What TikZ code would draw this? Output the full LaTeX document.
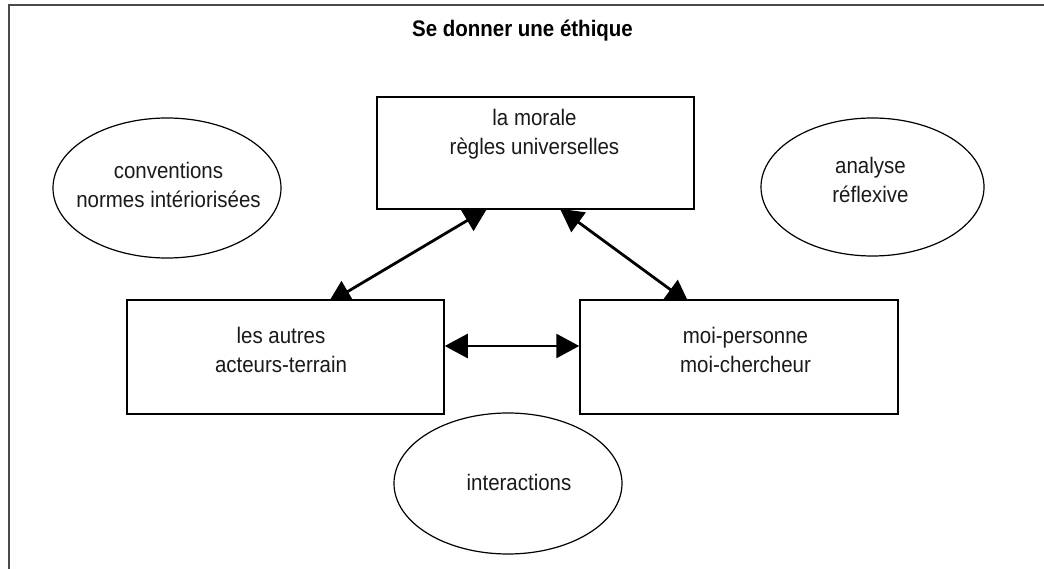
\documentclass[tikz,border=0pt]{standalone}
\usepackage{fontspec}
\setmainfont{Liberation Sans}[FakeStretch=0.91]
\usetikzlibrary{arrows.meta,shapes.geometric,backgrounds}
\definecolor{framegray}{HTML}{4A4A4A}
\definecolor{inkgray}{HTML}{1A1A1A}
\begin{document}
\begin{tikzpicture}[x=1pt,y=-1pt,
  txt/.style={font=\fontsize{22.5}{29}\selectfont, text=inkgray, align=center, inner sep=0pt, anchor=base},
  ttl/.style={font=\bfseries\fontsize{22.5}{29}\selectfont, text=black, inner sep=0pt, anchor=base},
  boxnode/.style={draw=black, line width=1.5pt, fill=white, rectangle, inner sep=0pt},
  ellnode/.style={draw=black, line width=1.2pt, ellipse, inner sep=0pt},
  biarrow/.style={line width=2.8pt, {Triangle[length=23pt,width=24pt]}-{Triangle[length=23pt,width=24pt]}},
  framestyle/.style={draw=framegray, line width=2pt}]
\useasboundingbox (0,0) rectangle (1044,569);

% frame
\coordinate (fbl) at (9,569);
\coordinate (ftl) at (9,5);
\coordinate (ftr) at (1044,5);
\draw[framestyle] (fbl) -- (ftl) -- (ftr);

% title
\node[ttl] (title) at (522.5,37) {Se donner une éthique};

% boxes
\node[boxnode, minimum width=317pt, minimum height=112pt] (morale) at (535.5,153) {};
\node[boxnode, minimum width=317pt, minimum height=114pt] (autres) at (285.5,357) {};
\node[boxnode, minimum width=318pt, minimum height=114pt] (moi) at (739,357) {};

% texts (anchor = baseline of the last line)
\node[txt] (tmorale) at (534.5,155) {la morale\\règles universelles};
\node[txt] (tautres) at (281,372) {les autres\\acteurs-terrain};
\node[txt] (tmoi) at (745.5,372) {moi-personne\\moi-chercheur};

% ellipses
\node[ellnode, minimum width=228pt, minimum height=140pt] (conv) at (167,188) {};
\node[ellnode, minimum width=223pt, minimum height=138pt] (anal) at (872.5,187) {};
\node[ellnode, minimum width=228pt, minimum height=141pt] (inter) at (508,483.5) {};

\node[txt] (tconv) at (168.5,208) {conventions\\normes intériorisées};
\node[txt] (tanal) at (870.5,203) {analyse\\réflexive};
\node[txt] (tinter) at (519,490) {interactions};

% connectors
\begin{scope}[on background layer]
\draw[biarrow] ([xshift=42.5pt,yshift=-4pt]autres.north) -- ([xshift=-48.5pt,yshift=1pt]morale.south);
\draw[biarrow] ([xshift=24.5pt,yshift=1pt]morale.south) -- ([xshift=-50pt,yshift=-4pt]moi.north);
\end{scope}
\draw[biarrow] ([yshift=11pt]autres.east) -- ([yshift=11pt]moi.west);
\end{tikzpicture}
\end{document}
